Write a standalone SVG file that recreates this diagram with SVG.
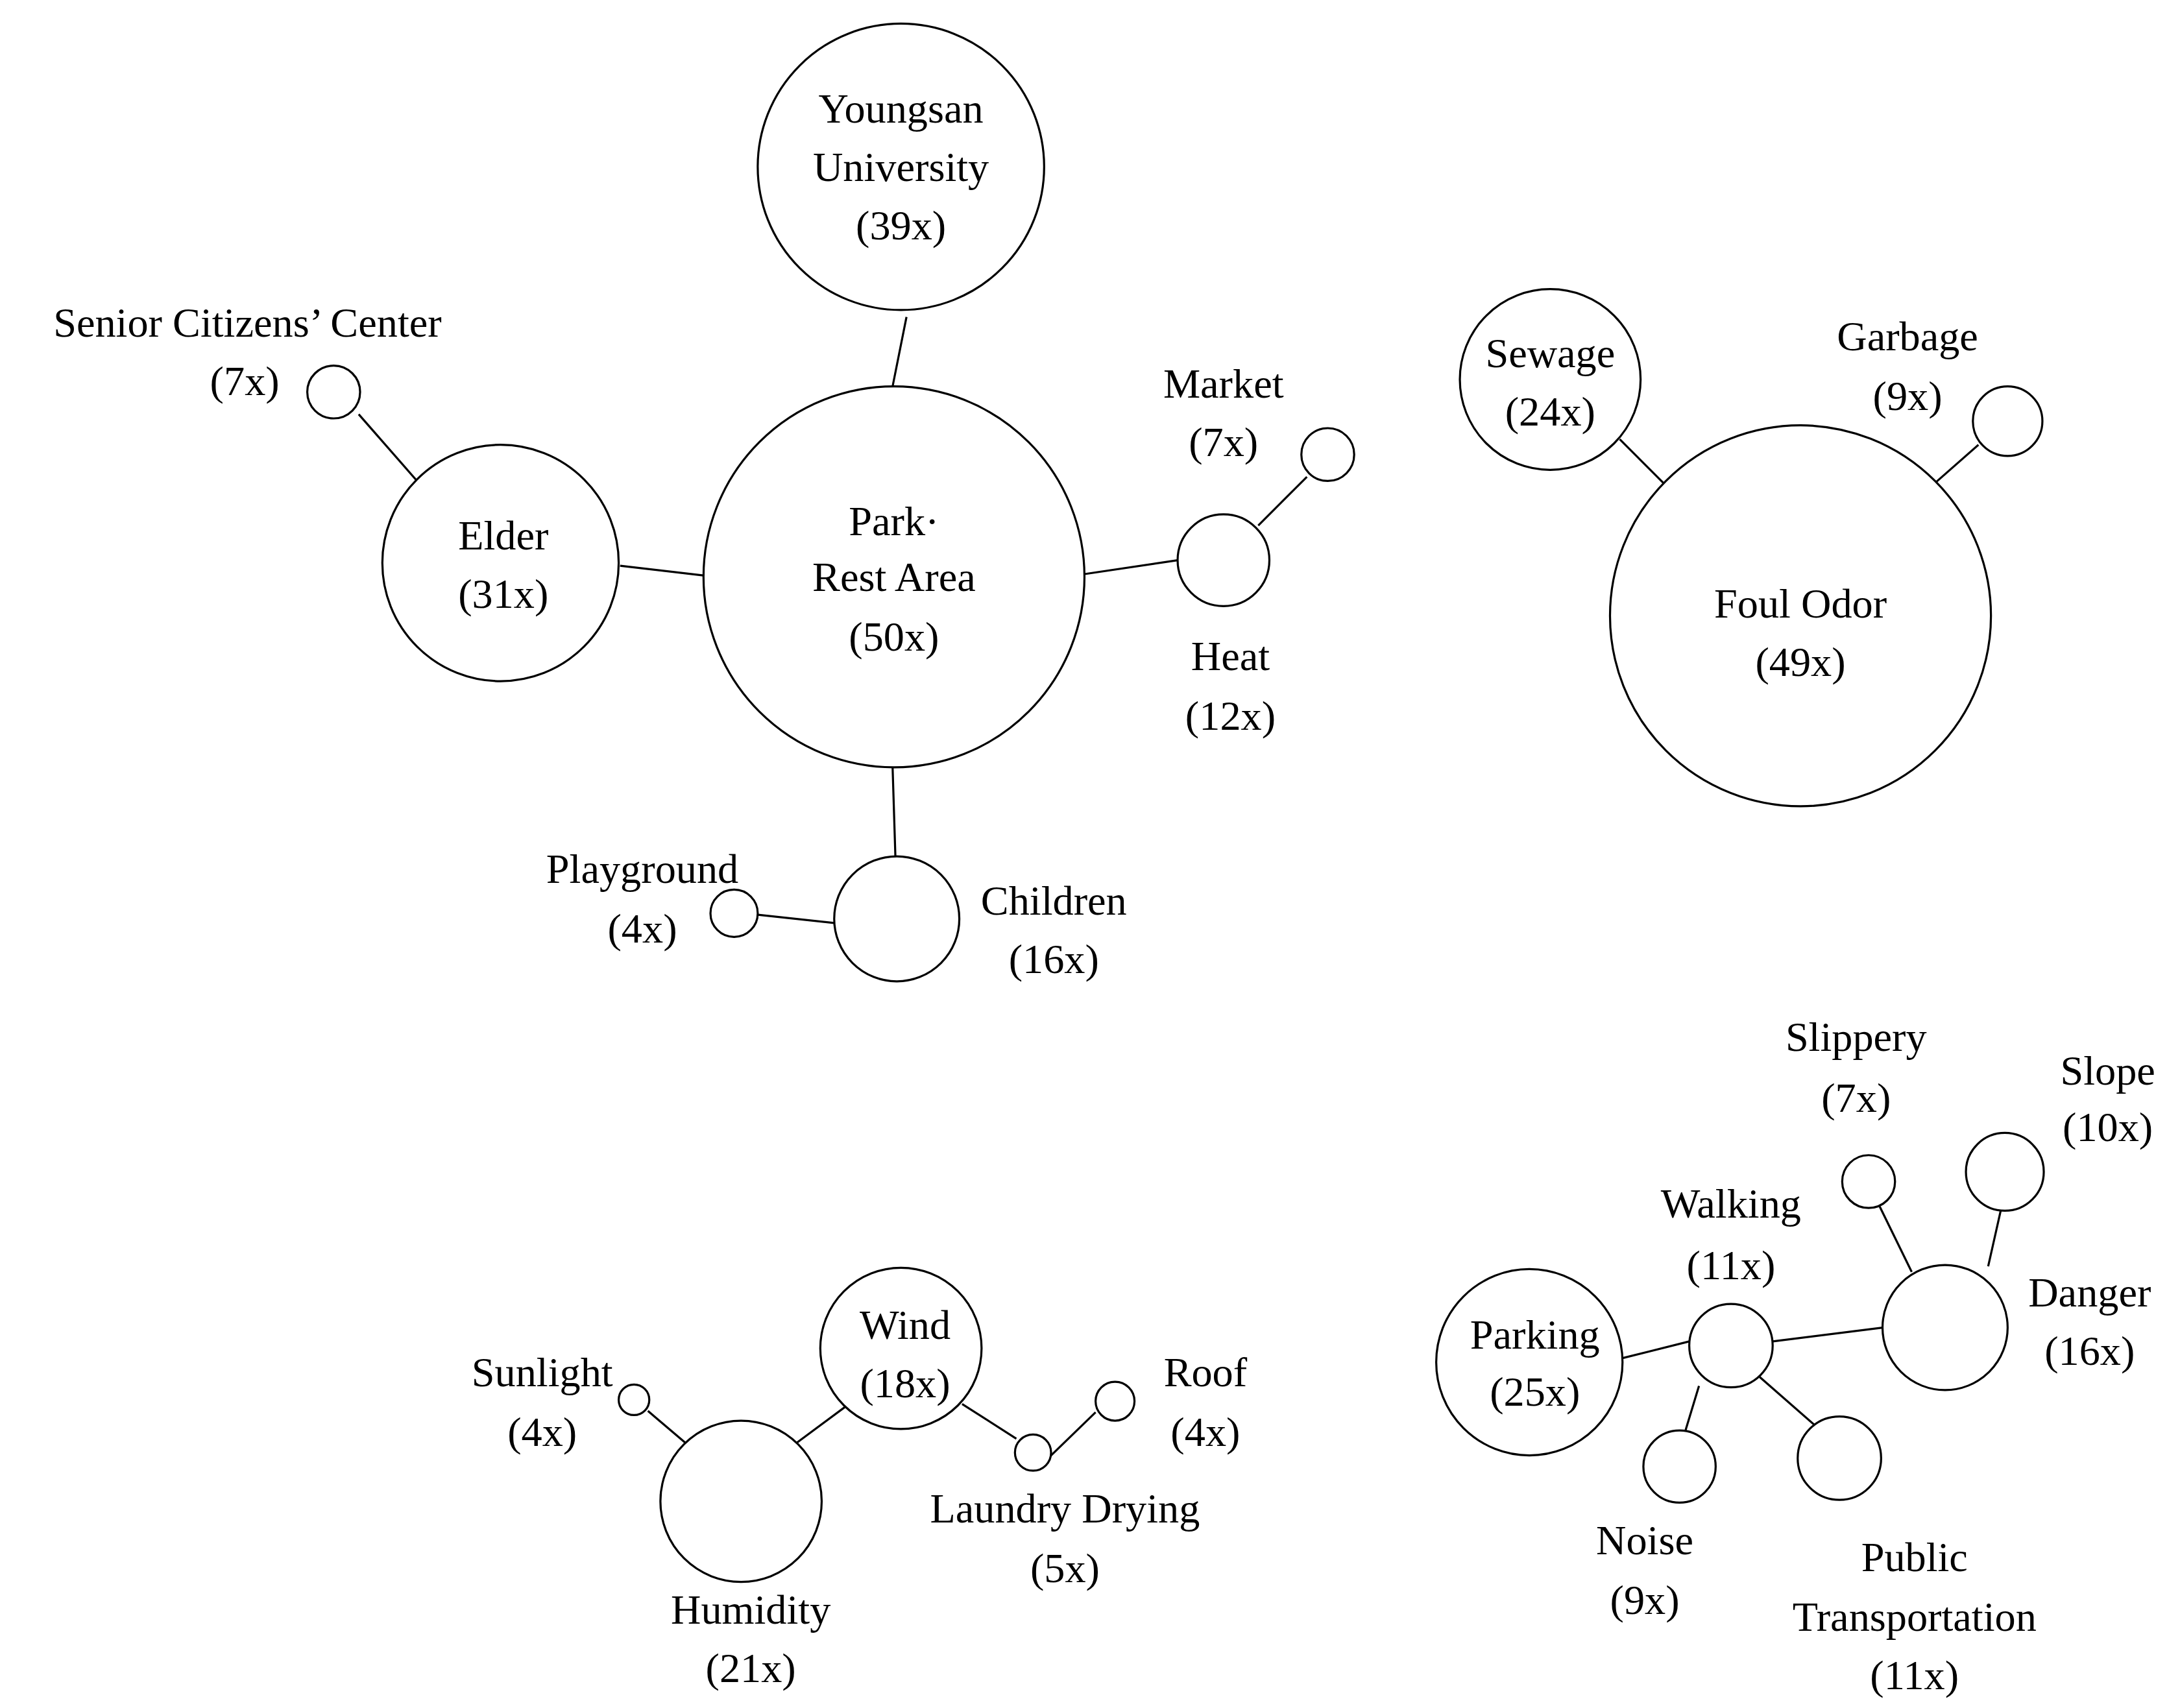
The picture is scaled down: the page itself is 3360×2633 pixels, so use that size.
<svg xmlns="http://www.w3.org/2000/svg" width="3360" height="2633" viewBox="0 0 3360 2633">
<style>
circle{fill:#fff;stroke:#000;stroke-width:1.5}
line{stroke:#000;stroke-width:1.5}
text{font-family:"Liberation Serif","Times New Roman",serif;font-size:30px;fill:#000;text-anchor:middle;dominant-baseline:central}
</style>
<rect width="3360" height="2633" fill="#fff"/>
<g transform="scale(2.1429)">
<g id="connectors">
<line x1="652" y1="228" x2="642" y2="278"/>
<line x1="446" y1="407" x2="506" y2="414"/>
<line x1="258" y1="298" x2="300" y2="346"/>
<line x1="780" y1="413" x2="847" y2="403"/>
<line x1="905" y1="378" x2="940" y2="343"/>
<line x1="642" y1="552" x2="644" y2="616"/>
<line x1="545" y1="658" x2="600" y2="664"/>
<line x1="1165" y1="316" x2="1199" y2="350"/>
<line x1="1423" y1="320" x2="1390" y2="349"/>
<line x1="466" y1="1015" x2="493" y2="1038"/>
<line x1="573" y1="1038" x2="608" y2="1012"/>
<line x1="692" y1="1010" x2="731" y2="1035"/>
<line x1="756" y1="1047" x2="788" y2="1016"/>
<line x1="1167" y1="977" x2="1215" y2="965"/>
<line x1="1275" y1="965" x2="1355" y2="955"/>
<line x1="1352" y1="868" x2="1375" y2="915"/>
<line x1="1439" y1="871" x2="1430" y2="911"/>
<line x1="1222" y1="997" x2="1212" y2="1030"/>
<line x1="1265" y1="990" x2="1305" y2="1025"/>
</g>
<g id="youngsan"><circle cx="648" cy="120" r="103"/><text x="648" y="78">Youngsan</text><text x="648" y="120">University</text><text x="648" y="162">(39x)</text></g>
<g id="park"><circle cx="643" cy="415" r="137"/><text x="643" y="375">Park·</text><text x="643" y="415">Rest Area</text><text x="643" y="458">(50x)</text></g>
<g id="elder"><circle cx="360" cy="405" r="85"/><text x="362" y="385">Elder</text><text x="362" y="427">(31x)</text></g>
<g id="senior"><circle cx="240" cy="282" r="19"/><text x="178" y="232">Senior Citizens’ Center</text><text x="176" y="274">(7x)</text></g>
<g id="market"><circle cx="955" cy="327" r="19"/><text x="880" y="276">Market</text><text x="880" y="318">(7x)</text></g>
<g id="heat"><circle cx="880" cy="403" r="33"/><text x="885" y="472">Heat</text><text x="885" y="515">(12x)</text></g>
<g id="children"><circle cx="645" cy="661" r="45"/><text x="758" y="648">Children</text><text x="758" y="690">(16x)</text></g>
<g id="playground"><circle cx="528" cy="657" r="17"/><text x="462" y="625">Playground</text><text x="462" y="668">(4x)</text></g>
<g id="sewage"><circle cx="1115" cy="273" r="65"/><text x="1115" y="254">Sewage</text><text x="1115" y="296">(24x)</text></g>
<g id="foulodor"><circle cx="1295" cy="443" r="137"/><text x="1295" y="434">Foul Odor</text><text x="1295" y="476">(49x)</text></g>
<g id="garbage"><circle cx="1444" cy="303" r="25"/><text x="1372" y="242">Garbage</text><text x="1372" y="285">(9x)</text></g>
<g id="wind"><circle cx="648" cy="970" r="58"/><text x="651" y="953">Wind</text><text x="651" y="995">(18x)</text></g>
<g id="humidity"><circle cx="533" cy="1080" r="58"/><text x="540" y="1158">Humidity</text><text x="540" y="1200">(21x)</text></g>
<g id="sunlight"><circle cx="456" cy="1007" r="11"/><text x="390" y="987">Sunlight</text><text x="390" y="1030">(4x)</text></g>
<g id="laundry"><circle cx="743" cy="1045" r="13"/><text x="766" y="1085">Laundry Drying</text><text x="766" y="1128">(5x)</text></g>
<g id="roof"><circle cx="802" cy="1008" r="14"/><text x="867" y="987">Roof</text><text x="867" y="1030">(4x)</text></g>
<g id="parking"><circle cx="1100" cy="980" r="67"/><text x="1104" y="960">Parking</text><text x="1104" y="1001">(25x)</text></g>
<g id="walking"><circle cx="1245" cy="968" r="30"/><text x="1245" y="866">Walking</text><text x="1245" y="910">(11x)</text></g>
<g id="danger"><circle cx="1399" cy="955" r="45"/><text x="1503" y="930">Danger</text><text x="1503" y="972">(16x)</text></g>
<g id="slippery"><circle cx="1344" cy="850" r="19"/><text x="1335" y="746">Slippery</text><text x="1335" y="790">(7x)</text></g>
<g id="slope"><circle cx="1442" cy="843" r="28"/><text x="1516" y="770">Slope</text><text x="1516" y="811">(10x)</text></g>
<g id="noise"><circle cx="1208" cy="1055" r="26"/><text x="1183" y="1108">Noise</text><text x="1183" y="1151">(9x)</text></g>
<g id="publictransport"><circle cx="1323" cy="1049" r="30"/><text x="1377" y="1120">Public</text><text x="1377" y="1163">Transportation</text><text x="1377" y="1205">(11x)</text></g>
</g>
</svg>
